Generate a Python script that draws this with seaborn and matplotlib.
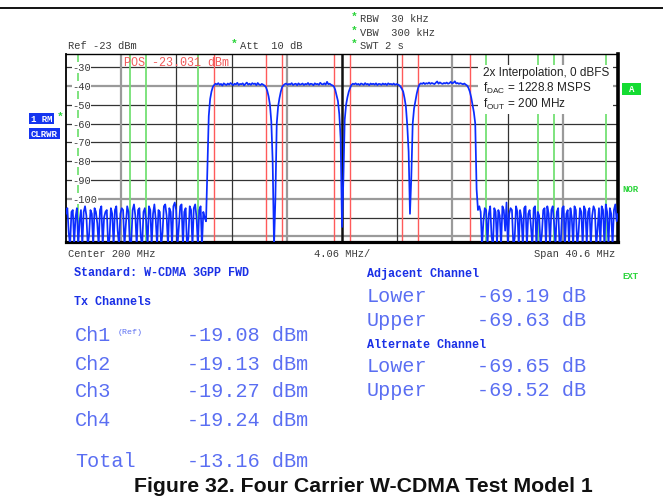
import numpy as np
import pandas as pd
import matplotlib
matplotlib.use("Agg")
import matplotlib.pyplot as plt
import seaborn as sns
from matplotlib.lines import Line2D
from matplotlib.patches import Rectangle

# ---------------- data ----------------
CENTER_MHZ = 200.0
SPAN_MHZ = 40.6
REF_DBM = -23
RANGE_DB = 100

# trace segments, sweep step 0.1 MHz from 179.7 MHz
noise_left = [
    -108, -105, -118, -125, -107, -106, -124, -110, -105, -125,
    -112, -106, -125, -107, -104, -109, -125, -119, -106, -108,
    -125, -105, -107, -113, -125, -106, -104, -125, -110, -107,
    -106, -125, -121, -105, -108, -125, -106, -104, -117, -125,
    -108, -105, -106, -125, -114, -104, -107, -125, -123, -106,
    -103, -109, -125, -106, -105, -120, -125, -107, -105, -112,
    -125, -104, -106, -125, -108, -103, -111, -125, -106, -107,
    -125, -118, -104, -103, -109, -125, -105, -107, -125, -104,
    -102, -106, -125, -115, -104, -103, -125, -107, -105, -125,
    -121, -104, -106, -125, -105, -103, -110, -125, -106, -104,
    -125, -107, -110]
ch1_rise = [-112, -85, -56, -47, -43, -40.5]
ch1 = [-39.5, -38.8, -39.2, -38.5, -39.4, -38.9, -39.8, -38.6, -39.1, -39.5,
       -38.7, -39.3, -38.4, -39.0, -39.6, -38.8, -39.2, -38.3, -39.5, -38.9,
       -39.1, -38.6, -39.7, -38.9, -38.2, -39.3, -38.8, -39.4, -38.5, -39.0,
       -38.7, -39.6, -38.4, -39.2, -39.5, -38.9, -39.3, -39.8]
notch12 = [-40.5, -42.5, -45.5, -50, -59, -80, -125, -100, -60, -51, -46.5, -43, -40.5]
ch2 = [-39.6, -39.0, -38.7, -39.4, -38.9, -39.2, -38.5, -39.5, -39.0, -38.8,
       -39.6, -38.6, -39.3, -39.1, -38.7, -39.5, -38.9, -39.2, -38.4, -39.4,
       -38.8, -39.0, -39.6, -38.6, -39.1, -38.9, -39.4, -38.3, -39.0, -39.2,
       -38.6, -39.3, -37.8, -39.1, -38.8, -39.4, -39.7, -40.2]
notch23 = [-42, -45, -48, -55, -68, -115, -90, -58, -50, -46, -43, -41]
ch3 = [-39.4, -38.8, -39.1, -38.6, -39.3, -38.9, -39.5, -38.7, -39.0, -39.4,
       -38.5, -39.2, -38.9, -39.6, -38.7, -39.1, -38.8, -39.3, -38.6, -39.5,
       -38.9, -39.0, -39.4, -38.7, -39.2, -38.8, -39.5, -38.6, -39.1, -38.9,
       -39.3, -38.7, -39.4, -39.0, -39.2, -39.6, -40.3]
notch34 = [-41.5, -43, -46.5, -51, -61, -75, -108, -88, -60, -52, -48, -44, -41]
ch4 = [-39.2, -38.6, -38.9, -38.3, -39.0, -38.5, -38.8, -38.2, -38.9, -38.4,
       -38.7, -39.0, -38.3, -37.6, -38.8, -38.1, -38.6, -38.9, -38.4, -38.7,
       -38.2, -38.8, -38.5, -37.8, -38.6, -38.3, -37.5, -38.7, -38.4, -38.9,
       -38.5, -38.8, -39.1, -38.7, -39.3, -39.8]
ch4_fall = [-41, -43, -46, -50, -54, -60, -95, -106]
noise_right = [
    -104, -107, -125, -112, -105, -106, -125, -108, -104, -120,
    -125, -105, -107, -124, -106, -109, -125, -104, -106, -117,
    -102, -125, -108, -105, -106, -125, -121, -104, -107, -125,
    -106, -110, -125, -105, -104, -125, -108, -106, -115, -125,
    -105, -104, -125, -107, -109, -125, -119, -106, -105, -125,
    -104, -108, -125, -106, -104, -113, -125, -107, -105, -125,
    -122, -105, -104, -125, -108, -106, -125, -105, -110, -125,
    -104, -106, -125, -118, -105, -107, -125, -104, -106, -124,
    -107, -105, -125, -109, -104, -106, -125, -116, -105, -125,
    -104, -106, -125, -103, -107, -125, -105, -108, -125, -106,
    -103, -112, -108]

carrier_centers = [192.5, 197.5, 202.5, 207.5]
channel_bw = 3.84
adjacent_centers = [187.5, 212.5]
alternate_centers = [182.5, 217.5]

ytick_labels = [-30, -40, -50, -60, -70, -80, -90, -100]

tx_names = ["Ch1", "Ch2", "Ch3", "Ch4"]
tx_powers = ["-19.08 dBm", "-19.13 dBm", "-19.27 dBm", "-19.24 dBm"]
total_power = "-13.16 dBm"
adj_values = ["-69.19 dB", "-69.63 dB"]
alt_values = ["-69.65 dB", "-69.52 dB"]

# ---------------- figure ----------------
sns.set_style("white")
plt.rcParams["font.family"] = ["Liberation Sans", "DejaVu Sans"]
plt.rcParams["mathtext.fontset"] = "custom"
plt.rcParams["mathtext.rm"] = "Liberation Sans"
plt.rcParams["mathtext.it"] = "Liberation Sans:italic"

W, H = 663, 502
fig = plt.figure(figsize=(W / 100, H / 100), dpi=100)


def fx(x):
    return x / W


def fy(y):
    return 1 - y / H


MONO = "Liberation Mono"
HDR = "#3a3a3a"
GREEN = "#2ad43a"


def T(x, y, s, **kw):
    kw.setdefault("va", "center")
    kw.setdefault("ha", "left")
    return fig.text(fx(x), fy(y), s, **kw)


ax = fig.add_axes([fx(66), fy(243), (618 - 66) / W, (243 - 55) / H])

trace = np.array(noise_left + ch1_rise + ch1 + notch12 + ch2 + notch23 + ch3
                 + notch34 + ch4 + ch4_fall + noise_right, dtype=float)
f0 = CENTER_MHZ - SPAN_MHZ / 2
f1 = CENTER_MHZ + SPAN_MHZ / 2
freq = np.linspace(f0, f1, len(trace))
df = pd.DataFrame({"freq": freq, "level": trace})

ax.set_xlim(f0, f1)
ax.set_ylim(REF_DBM - RANGE_DB, REF_DBM)

# grid
for v in range(-30, -121, -10):
    if v in (-40, -100, -120):
        ax.axhline(v, color="#9a9a9a", lw=1.6, zorder=1)
    else:
        ax.axhline(v, color="#333333", lw=0.9, zorder=1)
div = SPAN_MHZ / 10
for k in range(-4, 5):
    xv = CENTER_MHZ + k * div
    if k in (-4, -1, 2, 4):
        ax.axvline(xv, color="#9a9a9a", lw=1.6, zorder=1)
    elif k == 0:
        ax.axvline(xv, color="#111111", lw=1.8, zorder=1)
    else:
        ax.axvline(xv, color="#333333", lw=0.9, zorder=1)

# channel boundaries
for c in carrier_centers:
    for e in (c - channel_bw / 2, c + channel_bw / 2):
        ax.axvline(e, color="#ff5a5a", lw=1.0, zorder=2)
for c in adjacent_centers + alternate_centers:
    for e in (c - channel_bw / 2, c + channel_bw / 2):
        ax.axvline(e, color="#74e074", lw=1.3, zorder=2)

sns.lineplot(data=df, x="freq", y="level", ax=ax, color="#0c2cff", lw=1.25,
             estimator=None, sort=False, zorder=3)
ax.set_xlabel("")
ax.set_ylabel("")
ax.set_xticks([])
ax.set_yticks([])

for sp, lw in (("left", 1.3), ("bottom", 2.3), ("right", 2.6), ("top", 1.0)):
    ax.spines[sp].set_visible(True)
    ax.spines[sp].set_color("black")
    ax.spines[sp].set_linewidth(lw)

# level labels inside plot
for v in ytick_labels:
    ax.text(f0 + 0.45, v, f"{v}", fontsize=7.5, family=MONO, color=HDR,
            va="center", ha="left", zorder=7,
            bbox=dict(facecolor="white", edgecolor="none", pad=0.3))

# annotation box
ax.add_patch(Rectangle(((478 - 66) / 552, (243 - 115) / 188), 135 / 552, 49 / 188,
                       transform=ax.transAxes, facecolor="white", edgecolor="none",
                       zorder=6))

T(483, 73, "2x Interpolation, 0 dBFS", fontsize=8.5, color="#222222", zorder=9)
T(483, 88, r"f$_{\mathrm{DAC}}$ = 1228.8 MSPS", fontsize=8.5, color="#222222", zorder=9)
T(483, 104, r"f$_{\mathrm{OUT}}$ = 200 MHz", fontsize=8.5, color="#222222", zorder=9)

# top rule
fig.add_artist(Line2D([0, 1], [fy(9), fy(9)], color="black", lw=1.3))

# header texts
T(68, 46, "Ref -23 dBm", fontsize=7.5, family=MONO, color=HDR)
T(231, 44, "*", fontsize=8, family=MONO, color=GREEN, weight="bold")
T(240, 46, "Att  10 dB", fontsize=7.5, family=MONO, color=HDR)
for yy, s in ((19, "RBW  30 kHz"), (33, "VBW  300 kHz"), (46, "SWT 2 s")):
    T(351, yy - 2, "*", fontsize=8, family=MONO, color=GREEN, weight="bold")
    T(360, yy, s, fontsize=7.5, family=MONO, color=HDR)
T(124, 63, "POS -23.031 dBm", fontsize=8.5, family=MONO, color="#f05a5a", zorder=9)

# left / right side indicators
fig.add_artist(Rectangle((fx(29), fy(125)), 25 / W, 11 / H, facecolor="#1535f0",
                         edgecolor="none", transform=fig.transFigure))
T(41.5, 119.5, "1 RM", fontsize=6.5, family=MONO, color="white", weight="bold", ha="center")
T(57, 117, "*", fontsize=8, family=MONO, color=GREEN, weight="bold")
fig.add_artist(Rectangle((fx(29), fy(140)), 31 / W, 11 / H, facecolor="#1535f0",
                         edgecolor="none", transform=fig.transFigure))
T(44.5, 134.5, "CLRWR", fontsize=6.5, family=MONO, color="white", weight="bold", ha="center")

fig.add_artist(Rectangle((fx(622), fy(96)), 19 / W, 12 / H, facecolor="#14dc32",
                         edgecolor="none", transform=fig.transFigure))
T(631.5, 90, "A", fontsize=6.5, family=MONO, color="white", weight="bold", ha="center")
T(622, 189, "NOR", fontsize=6.5, family=MONO, color=GREEN, weight="bold")
T(622, 277, "EXT", fontsize=6.5, family=MONO, color=GREEN, weight="bold")

# x-axis annotations
T(68, 254, "Center 200 MHz", fontsize=7.5, family=MONO, color=HDR)
T(314, 254, "4.06 MHz/", fontsize=7.5, family=MONO, color=HDR)
T(615, 254, "Span 40.6 MHz", fontsize=7.5, family=MONO, color=HDR, ha="right")

# measurement results
BOLDBLUE = "#1a30e6"
LIGHTBLUE = "#5a6ef2"
T(74, 273, "Standard: W-CDMA 3GPP FWD", fontsize=8.5, family=MONO, color=BOLDBLUE, weight="bold")
T(74, 302, "Tx Channels", fontsize=8.5, family=MONO, color=BOLDBLUE, weight="bold")
T(367, 274, "Adjacent Channel", fontsize=8.5, family=MONO, color=BOLDBLUE, weight="bold")
T(367, 345, "Alternate Channel", fontsize=8.5, family=MONO, color=BOLDBLUE, weight="bold")

for name, pw, yy in zip(tx_names, tx_powers, (336, 364, 392, 420)):
    T(75, yy, name, fontsize=14.5, family=MONO, color=LIGHTBLUE)
    T(187, yy, pw, fontsize=14.5, family=MONO, color=LIGHTBLUE)
T(118, 333, "(Ref)", fontsize=6, family=MONO, color=LIGHTBLUE)
T(75, 462, "Total", fontsize=14.5, family=MONO, color=LIGHTBLUE)
T(187, 462, total_power, fontsize=14.5, family=MONO, color=LIGHTBLUE)

for lbl, val, yy in zip(["Lower", "Upper"], adj_values, (296, 320)):
    T(367, yy, lbl, fontsize=14.5, family=MONO, color=LIGHTBLUE)
    T(477, yy, val, fontsize=14.5, family=MONO, color=LIGHTBLUE)
for lbl, val, yy in zip(["Lower", "Upper"], alt_values, (367, 391)):
    T(367, yy, lbl, fontsize=14.5, family=MONO, color=LIGHTBLUE)
    T(477, yy, val, fontsize=14.5, family=MONO, color=LIGHTBLUE)

T(363, 487, "Figure 32. Four Carrier W-CDMA Test Model 1", fontsize=15.3,
  weight="bold", color="#111111", ha="center")

fig.savefig("out.png", dpi=100)
